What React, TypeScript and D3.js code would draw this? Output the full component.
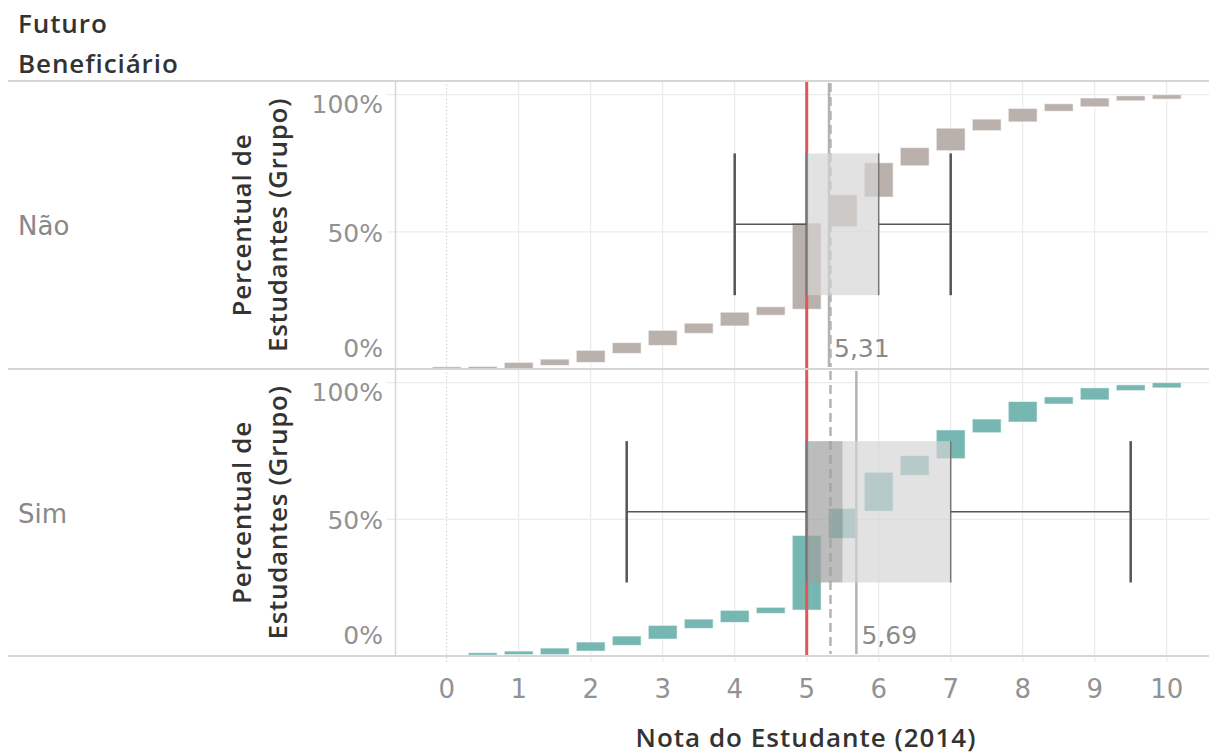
import React from "react";
import * as d3 from "d3";

// Grade bins (Nota do Estudante, 2014) – one cumulative step per half point
const bins = [0, 0.5, 1, 1.5, 2, 2.5, 3, 3.5, 4, 4.5, 5, 5.5, 6, 6.5, 7, 7.5, 8, 8.5, 9, 9.5, 10];

// Cumulative share of students (%) at the start and end of each bin
const naoLow = [0, 0.1, 0.1, 1.3, 2.4, 5.7, 8.6, 13.0, 15.7, 19.6, 21.8, 51.9, 62.7, 74.1, 79.6, 86.9, 90.1, 94.0, 95.6, 97.8, 98.4];
const naoHigh = [0.8, 0.9, 2.4, 3.6, 6.8, 9.6, 14.1, 16.7, 20.7, 22.7, 53.2, 63.5, 75.2, 80.7, 87.8, 91.1, 95.0, 96.7, 98.8, 99.6, 100];
const simLow = [0, 0.3, 0.5, 0.5, 1.8, 3.9, 6.2, 10.1, 12.3, 15.6, 16.8, 43.0, 53.0, 66.1, 72.2, 81.7, 85.6, 92.2, 93.7, 97.1, 98.1];
const simHigh = [0, 1.2, 1.8, 2.9, 5.1, 7.3, 11.2, 13.5, 16.7, 17.8, 44.1, 54.0, 67.2, 73.3, 82.7, 86.7, 93.1, 94.8, 98.1, 99.2, 100];

// Box plot summaries per group: [lower whisker, Q1, median, Q3, upper whisker]
const naoBox = [4, 5, 5, 6, 7];
const simBox = [2.5, 5, 5.5, 7, 9.5];

// Group means and overall mean, passing grade
const groupMeans = [5.31, 5.69];
const overallMean = 5.33;
const passGrade = 5;

const groups = ["Não", "Sim"];
const xTicks = [0, 1, 2, 3, 4, 5, 6, 7, 8, 9, 10];
const yTicks = [0, 50, 100];

const W = 1209;
const H = 753;
const TITLE_FONT = "'Open Sans', 'Noto Sans', sans-serif";
const LABEL_FONT = "'DejaVu Sans', 'Open Sans', sans-serif";
const fmtPct = (v: number) => `${v}%`;
const fmtMean = (v: number) => d3.format(".2f")(v).replace(".", ",");

export default function App() {
  const x = d3.scaleLinear().domain([0, 10]).range([446.7, 1166.7]);
  const plotLeft = 395.5;
  const plotRight = W;
  const panelEdges = [81, 369, 656];
  const barHalf = 0.2;

  const panels = groups.map((g, i) => {
    const top = panelEdges[i];
    const bottom = panelEdges[i + 1];
    const y = d3.scaleLinear().domain([0, 105]).range([bottom, top]);
    return {
      name: g,
      top,
      bottom,
      y,
      color: i === 0 ? "#bab0ac" : "#76b7b2",
      low: i === 0 ? naoLow : simLow,
      high: i === 0 ? naoHigh : simHigh,
      box: i === 0 ? naoBox : simBox,
      mean: groupMeans[i],
    };
  });

  return (
    <svg
      width={W}
      height={H}
      style={{ position: "absolute", left: 0, top: 0, background: "#fff" }}
    >
      {/* header of the row dimension */}
      <g fontFamily={TITLE_FONT} fontSize={26} fontWeight={600} fill="#333" letterSpacing={0.9}>
        <text x={18} y={33}>Futuro</text>
        <text x={18} y={72.5}>Beneficiário</text>
      </g>

      {/* vertical grid */}
      {xTicks.filter((t) => t > 0).map((t) => (
        <line key={`vg${t}`} x1={x(t)} x2={x(t)} y1={panelEdges[0]} y2={662} stroke="#ececec" strokeWidth={1.2} />
      ))}
      {/* zero line */}
      <line x1={x(0)} x2={x(0)} y1={panelEdges[0]} y2={662} stroke="#c4c4c4" strokeWidth={1} strokeDasharray="1.2,2.4" />

      {panels.map((p) => {
        const [wLo, q1, med, q3, wHi] = p.box;
        const bandLo = p.y(78.6);
        const bandHi = p.y(26.9);
        const midY = (bandLo + bandHi) / 2;
        const cy = (p.top + p.bottom) / 2;
        return (
          <g key={p.name}>
            {/* horizontal grid */}
            {yTicks.filter((t) => t > 0).map((t) => (
              <line key={`hg${t}`} x1={387} x2={plotRight} y1={p.y(t)} y2={p.y(t)} stroke="#ececec" strokeWidth={1.2} />
            ))}

            {/* row label */}
            <text x={18} y={cy + 10} fontFamily={LABEL_FONT} fontSize={26} fill="#888">{p.name}</text>

            {/* y-axis title */}
            <g fontFamily={TITLE_FONT} fontSize={26} fontWeight={600} fill="#333" letterSpacing={0.7}>
              <text transform={`translate(251,${cy}) rotate(-90)`} textAnchor="middle">Percentual de</text>
              <text transform={`translate(287,${cy}) rotate(-90)`} textAnchor="middle">Estudantes (Grupo)</text>
            </g>

            {/* y tick labels */}
            {yTicks.map((t) => {
              const yy = t === 100 ? p.y(t) + 18 : t === 0 ? p.y(t) - 12 : p.y(t) + 10;
              return (
                <text key={`yl${t}`} x={383} y={yy} textAnchor="end" fontFamily={LABEL_FONT} fontSize={25} fill="#929292">
                  {fmtPct(t)}
                </text>
              );
            })}

            {/* cumulative step bars */}
            {bins.map((b, k) => {
              const lo = p.low[k];
              const hi = p.high[k];
              if (hi - lo <= 0) return null;
              return (
                <rect
                  key={`b${k}`}
                  x={x(b - barHalf)}
                  width={x(b + barHalf) - x(b - barHalf)}
                  y={p.y(hi)}
                  height={p.y(lo) - p.y(hi)}
                  fill={p.color}
                  stroke="#fff"
                  strokeOpacity={0.55}
                  strokeWidth={1}
                />
              );
            })}

            {/* passing grade */}
            <line x1={x(passGrade)} x2={x(passGrade)} y1={p.top + 1} y2={p.bottom} stroke="#e15759" strokeWidth={3} />

            {/* overall mean (dashed) and group mean (solid) */}
            <line x1={x(overallMean)} x2={x(overallMean)} y1={p.top + 2} y2={p.bottom - 2} stroke="#b3b3b3" strokeWidth={2.5} strokeDasharray="9,5" />
            <line x1={x(p.mean)} x2={x(p.mean)} y1={p.top + 2} y2={p.bottom - 2} stroke="#b3b3b3" strokeWidth={2.5} />
            <text x={x(p.mean) + 5} y={p.bottom - 12} fontFamily={LABEL_FONT} fontSize={25} fill="#8a8a8a">{fmtMean(p.mean)}</text>

            {/* box plot */}
            <rect x={x(q1)} width={x(med) - x(q1)} y={bandLo} height={bandHi - bandLo} fill="#a0a0a0" fillOpacity={0.7} />
            <rect x={x(med)} width={x(q3) - x(med)} y={bandLo} height={bandHi - bandLo} fill="#d4d4d4" fillOpacity={0.68} />
            <line x1={x(q1)} x2={x(q1)} y1={bandLo} y2={bandHi} stroke="#777" strokeWidth={2} />
            <line x1={x(q3)} x2={x(q3)} y1={bandLo} y2={bandHi} stroke="#777" strokeWidth={1.5} />
            <line x1={x(wLo)} x2={x(q1)} y1={midY} y2={midY} stroke="#555" strokeWidth={1.5} />
            <line x1={x(q3)} x2={x(wHi)} y1={midY} y2={midY} stroke="#555" strokeWidth={1.5} />
            <line x1={x(wLo)} x2={x(wLo)} y1={bandLo} y2={bandHi} stroke="#555" strokeWidth={2.5} />
            <line x1={x(wHi)} x2={x(wHi)} y1={bandLo} y2={bandHi} stroke="#555" strokeWidth={2.5} />
          </g>
        );
      })}

      {/* pane borders */}
      {panelEdges.map((e) => (
        <line key={`pe${e}`} x1={8} x2={plotRight} y1={e} y2={e} stroke="#d6d6d6" strokeWidth={2} />
      ))}
      <line x1={plotLeft} x2={plotLeft} y1={panelEdges[0]} y2={panelEdges[2]} stroke="#d6d6d6" strokeWidth={1.5} />

      {/* x axis */}
      {xTicks.map((t) => (
        <text key={`xl${t}`} x={x(t)} y={697.5} textAnchor="middle" fontFamily={LABEL_FONT} fontSize={26} fill="#929292">{t}</text>
      ))}
      <text x={806} y={746.5} textAnchor="middle" fontFamily={TITLE_FONT} fontSize={26} fontWeight={600} fill="#333" letterSpacing={1}>
        Nota do Estudante (2014)
      </text>
    </svg>
  );
}
